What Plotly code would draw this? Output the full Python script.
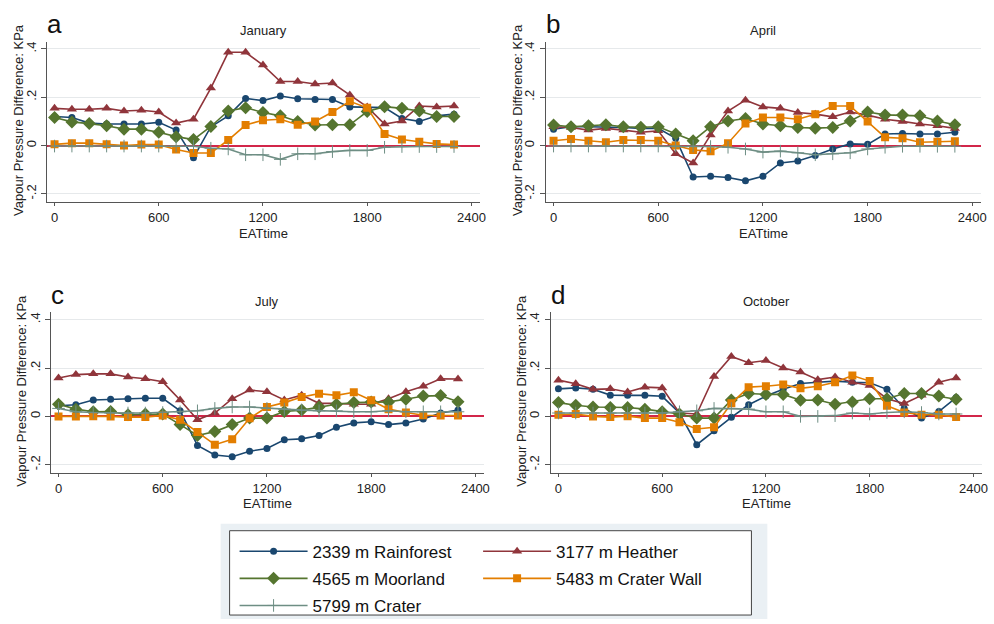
import plotly.graph_objects as go

# Hour of day (East Africa Time, hhmm)
EAT_TIME = [0, 100, 200, 300, 400, 500, 600, 700, 800, 900, 1000, 1100,
            1200, 1300, 1400, 1500, 1600, 1700, 1800, 1900, 2000, 2100, 2200, 2300]

MONTHS = ["January", "April", "July", "October"]
PANEL_LETTERS = ["a", "b", "c", "d"]

# Vapour pressure difference (KPa) per site, January
JAN_RAINFOREST = [0.120, 0.116, 0.093, 0.089, 0.089, 0.089, 0.096, 0.064, -0.050, 0.078, 0.123, 0.195,
                  0.186, 0.205, 0.194, 0.191, 0.191, 0.160, 0.157, 0.157, 0.112, 0.100, 0.123, 0.130]
JAN_HEATHER = [0.154, 0.150, 0.150, 0.154, 0.143, 0.146, 0.139, 0.093, 0.109, 0.238, 0.386, 0.386,
               0.333, 0.265, 0.265, 0.255, 0.259, 0.209, 0.160, 0.089, 0.102, 0.164, 0.160, 0.164]
JAN_MOORLAND = [0.116, 0.098, 0.091, 0.082, 0.068, 0.068, 0.055, 0.037, 0.025, 0.079, 0.143, 0.157,
                0.137, 0.123, 0.100, 0.085, 0.086, 0.086, 0.141, 0.161, 0.154, 0.143, 0.120, 0.120]
JAN_CRATER_WALL = [0.005, 0.010, 0.010, 0.005, 0.000, 0.004, 0.004, -0.016, -0.031, -0.031, 0.023, 0.085,
                   0.105, 0.109, 0.086, 0.100, 0.139, 0.183, 0.156, 0.048, 0.025, 0.016, 0.007, 0.004]
JAN_CRATER = [-0.002, -0.002, -0.002, -0.002, -0.002, -0.002, -0.002, -0.002, -0.003, -0.011, -0.014, -0.038,
              -0.038, -0.057, -0.034, -0.034, -0.025, -0.020, -0.020, -0.007, -0.004, -0.004, -0.004, -0.004]

# April
APR_RAINFOREST = [0.068, 0.078, 0.078, 0.078, 0.075, 0.071, 0.071, 0.030, -0.130, -0.127, -0.132, -0.146,
                  -0.127, -0.072, -0.064, -0.041, -0.014, 0.007, 0.005, 0.048, 0.050, 0.048, 0.048, 0.055]
APR_HEATHER = [0.078, 0.075, 0.064, 0.071, 0.064, 0.055, 0.061, -0.034, -0.072, 0.044, 0.143, 0.188,
               0.160, 0.154, 0.137, 0.130, 0.119, 0.139, 0.126, 0.109, 0.100, 0.089, 0.082, 0.071]
APR_MOORLAND = [0.085, 0.078, 0.082, 0.086, 0.078, 0.076, 0.078, 0.048, 0.020, 0.078, 0.102, 0.112,
                0.089, 0.082, 0.075, 0.072, 0.075, 0.102, 0.139, 0.127, 0.126, 0.123, 0.102, 0.086]
APR_CRATER_WALL = [0.020, 0.027, 0.020, 0.014, 0.023, 0.023, 0.020, 0.000, -0.018, -0.023, 0.010, 0.091,
                   0.116, 0.116, 0.109, 0.130, 0.164, 0.164, 0.100, 0.034, 0.030, 0.014, 0.016, 0.018]
APR_CRATER = [-0.002, -0.002, -0.002, -0.002, -0.002, -0.002, -0.002, -0.002, -0.002, -0.004, -0.007, -0.014,
              -0.027, -0.023, -0.030, -0.038, -0.034, -0.030, -0.014, -0.007, -0.003, -0.003, -0.003, -0.003]

# July
JUL_RAINFOREST = [0.044, 0.048, 0.068, 0.071, 0.073, 0.075, 0.075, 0.023, -0.120, -0.160, -0.167, -0.144,
                  -0.133, -0.097, -0.093, -0.079, -0.045, -0.027, -0.022, -0.034, -0.027, -0.011, 0.014, 0.026]
JUL_HEATHER = [0.159, 0.173, 0.176, 0.176, 0.163, 0.156, 0.143, 0.068, -0.014, 0.014, 0.073, 0.109,
               0.102, 0.068, 0.088, 0.054, 0.054, 0.050, 0.050, 0.073, 0.102, 0.125, 0.156, 0.155]
JUL_MOORLAND = [0.050, 0.030, 0.019, 0.020, 0.007, 0.010, 0.010, -0.034, -0.079, -0.063, -0.034, -0.007,
                -0.007, 0.020, 0.026, 0.039, 0.050, 0.057, 0.060, 0.060, 0.071, 0.084, 0.086, 0.061]
JUL_CRATER_WALL = [0.000, 0.000, 0.001, 0.000, -0.003, -0.003, 0.004, -0.014, -0.065, -0.117, -0.095, -0.008,
                   0.039, 0.057, 0.080, 0.094, 0.087, 0.100, 0.067, 0.030, 0.016, 0.005, 0.004, 0.004]
JUL_CRATER = [0.033, 0.019, 0.016, 0.014, 0.014, 0.014, 0.016, 0.019, 0.023, 0.033, 0.039, 0.039,
              0.033, 0.030, 0.026, 0.023, 0.023, 0.019, 0.019, 0.023, 0.019, 0.019, 0.019, 0.019]

# October
OCT_RAINFOREST = [0.114, 0.118, 0.112, 0.088, 0.087, 0.087, 0.083, 0.014, -0.117, -0.059, -0.004, 0.048,
                  0.084, 0.112, 0.136, 0.141, 0.146, 0.141, 0.139, 0.112, 0.033, -0.007, 0.020, 0.078]
OCT_HEATHER = [0.150, 0.135, 0.112, 0.114, 0.101, 0.121, 0.118, 0.014, 0.010, 0.165, 0.248, 0.222,
               0.231, 0.200, 0.184, 0.152, 0.163, 0.141, 0.128, 0.073, 0.053, 0.087, 0.141, 0.159]
OCT_MOORLAND = [0.057, 0.046, 0.039, 0.037, 0.037, 0.030, 0.019, 0.010, -0.007, -0.007, 0.068, 0.095,
                0.091, 0.091, 0.067, 0.068, 0.050, 0.060, 0.073, 0.073, 0.095, 0.095, 0.084, 0.071]
OCT_CRATER_WALL = [0.007, 0.010, 0.000, -0.003, 0.001, -0.007, -0.007, -0.024, -0.052, -0.045, 0.054, 0.121,
                   0.125, 0.132, 0.116, 0.125, 0.141, 0.169, 0.146, 0.044, 0.016, 0.007, 0.007, -0.003]
OCT_CRATER = [0.014, 0.014, 0.014, 0.014, 0.014, 0.014, 0.014, 0.019, 0.023, 0.033, 0.033, 0.030,
              0.019, 0.019, 0.000, 0.000, 0.003, 0.014, 0.010, 0.016, 0.019, 0.016, 0.010, 0.010]

SITE_NAMES = ["2339 m Rainforest", "3177 m Heather", "4565 m Moorland",
              "5483 m Crater Wall", "5799 m Crater"]

MONTH_DATA = [
    [JAN_RAINFOREST, JAN_HEATHER, JAN_MOORLAND, JAN_CRATER_WALL, JAN_CRATER],
    [APR_RAINFOREST, APR_HEATHER, APR_MOORLAND, APR_CRATER_WALL, APR_CRATER],
    [JUL_RAINFOREST, JUL_HEATHER, JUL_MOORLAND, JUL_CRATER_WALL, JUL_CRATER],
    [OCT_RAINFOREST, OCT_HEATHER, OCT_MOORLAND, OCT_CRATER_WALL, OCT_CRATER],
]

X_TICKS = [0, 600, 1200, 1800, 2400]
Y_TICKS = [-0.2, 0, 0.2, 0.4]
Y_TICK_TEXT = ["-.2", "0", ".2", ".4"]

# Per-site styling: colour, marker symbol, marker size, legend column
STYLES = [
    dict(color="#1a476f", symbol="circle", size=7, legend="legend"),
    dict(color="#90353b", symbol="triangle-up", size=9, legend="legend2"),
    dict(color="#55752f", symbol="diamond", size=10, legend="legend"),
    dict(color="#e37e00", symbol="square", size=8, legend="legend2"),
    dict(color="#6e8e84", symbol="cross-thin", size=9, legend="legend"),
]

W, H = 994, 624
FONT = "Arial, Liberation Sans, sans-serif"

# Plot-area rectangles in pixels: (left, right, top, bottom)
PANELS = [
    (47, 483, 42, 204),
    (549, 987, 42, 204),
    (51, 487, 315, 477),
    (554, 988, 315, 477),
]

fig = go.Figure()

for p, (month, series) in enumerate(zip(MONTHS, MONTH_DATA)):
    ax = "" if p == 0 else str(p + 1)
    for s, (name, vals) in enumerate(zip(SITE_NAMES, series)):
        st = STYLES[s]
        marker = dict(color=st["color"], symbol=st["symbol"], size=st["size"])
        if st["symbol"] == "cross-thin":
            marker["line"] = dict(color=st["color"], width=1)
        fig.add_trace(go.Scatter(
            x=EAT_TIME, y=vals, name=name, mode="lines+markers",
            line=dict(color=st["color"], width=1.6),
            marker=marker,
            legendgroup=name, showlegend=(p == 0), legend=st["legend"],
            xaxis="x" + ax, yaxis="y" + ax,
        ))

layout = dict(
    width=W, height=H,
    margin=dict(l=0, r=0, t=0, b=0),
    paper_bgcolor="white", plot_bgcolor="white",
    font=dict(family=FONT, color="#222", size=13),
)

annotations = []
for p, (l, r, t, b) in enumerate(PANELS):
    ax = "" if p == 0 else str(p + 1)
    layout["xaxis" + ax] = dict(
        domain=[l / W, r / W], anchor="y" + ax,
        range=[-45, 2450], tickvals=X_TICKS,
        showgrid=False, zeroline=False,
        showline=True, linecolor="#555", linewidth=1,
        ticks="outside", ticklen=3, tickcolor="#555",
        tickfont=dict(size=13, color="#222"),
    )
    layout["yaxis" + ax] = dict(
        domain=[1 - b / H, 1 - t / H], anchor="x" + ax,
        range=[-0.235, 0.43], tickvals=Y_TICKS, ticktext=Y_TICK_TEXT,
        tickangle=-90,
        showgrid=True, gridcolor="#e6e9eb", gridwidth=1,
        zeroline=True, zerolinecolor="#d2264a", zerolinewidth=1.6,
        showline=True, linecolor="#555", linewidth=1,
        ticks="outside", ticklen=5, tickcolor="#555",
        tickfont=dict(size=13, color="#222"),
    )
    cx = (l + r) / 2 / W
    # panel title
    annotations.append(dict(
        text=MONTHS[p], x=cx, y=1 - (t - 11) / H, xref="paper", yref="paper",
        xanchor="center", yanchor="middle", showarrow=False,
        font=dict(size=13, color="#222"),
    ))
    # panel letter
    annotations.append(dict(
        text=PANEL_LETTERS[p], x=(l - 2) / W, y=1 - (t - 18) / H, xref="paper", yref="paper",
        xanchor="left", yanchor="middle", showarrow=False,
        font=dict(size=26, color="#111"),
    ))
    # x-axis title
    annotations.append(dict(
        text="EATtime", x=cx, y=1 - (b + 31) / H, xref="paper", yref="paper",
        xanchor="center", yanchor="middle", showarrow=False,
        font=dict(size=13, color="#222"),
    ))
    # y-axis title
    annotations.append(dict(
        text="Vapour Pressure Difference: KPa", x=(l - 29) / W, y=1 - ((t + b) / 2 - 2) / H,
        xref="paper", yref="paper", textangle=-90,
        xanchor="center", yanchor="middle", showarrow=False,
        font=dict(size=13, color="#222"),
    ))

layout["annotations"] = annotations

# Legend panel: tinted region with a framed white box
layout["shapes"] = [
    dict(type="rect", xref="paper", yref="paper",
         x0=222 / W, x1=772 / W, y0=0, y1=1 - 528 / H,
         fillcolor="#eaf0f4", line=dict(width=0), layer="below"),
    dict(type="rect", xref="paper", yref="paper",
         x0=231 / W, x1=756 / W, y0=1 - 620 / H, y1=1 - 535 / H,
         fillcolor="white", line=dict(color="#444", width=1), layer="below"),
]

legend_common = dict(
    orientation="v", xanchor="left", yanchor="top",
    bgcolor="rgba(0,0,0,0)", borderwidth=0,
    font=dict(size=17, color="#111", family=FONT),
    tracegroupgap=2, itemwidth=68,
)
layout["legend"] = dict(legend_common, x=236 / W, y=1 - 538 / H)
layout["legend2"] = dict(legend_common, x=481 / W, y=1 - 538 / H)

fig.update_layout(**layout)
fig.write_html("out.html")
